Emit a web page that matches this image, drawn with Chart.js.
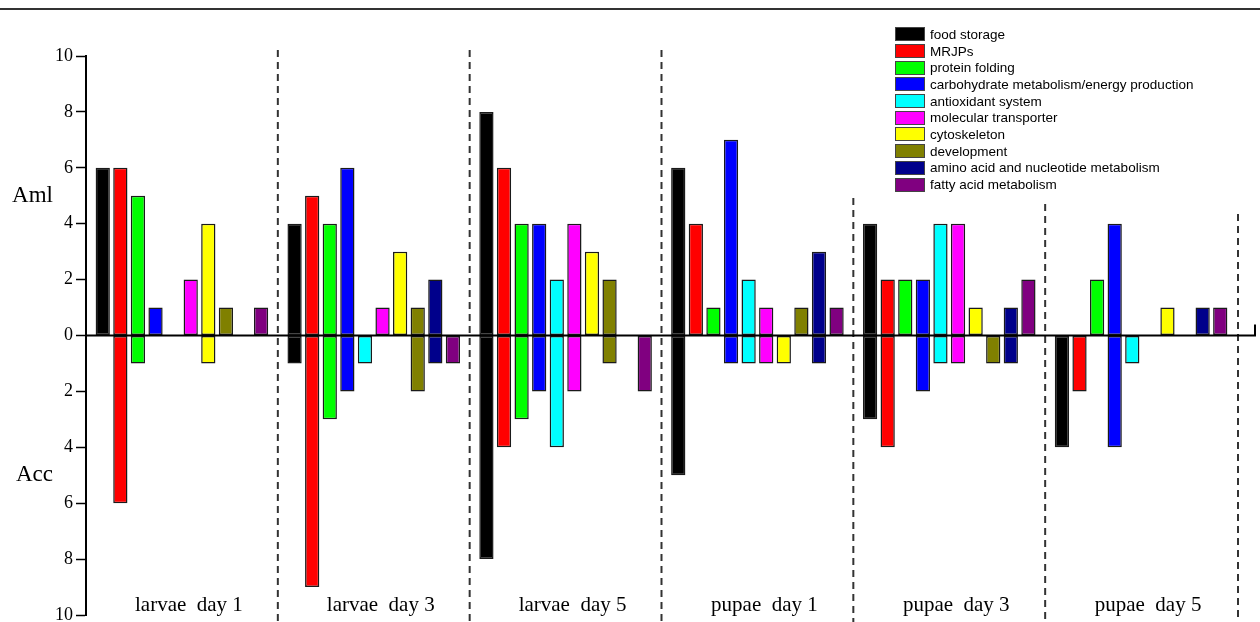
<!DOCTYPE html>
<html>
<head>
<meta charset="utf-8">
<script src="https://cdn.jsdelivr.net/npm/chart.js@4.4.0/dist/chart.umd.min.js"></script>
<style>
  html, body { margin: 0; padding: 0; background: #fff; }
  #wrap { position: relative; width: 1260px; height: 622px; overflow: hidden; }
  #topline { position: absolute; left: 0; top: 8px; width: 1260px; border-top: 2px solid #333; }
  #legend { position: absolute; left: 895px; top: 26px; font: 13.5px "Liberation Sans", Arial, sans-serif; color: #000; }
  .item { display: flex; align-items: center; height: 16.7px; white-space: nowrap; }
  .sw { width: 28px; height: 12px; border: 1px solid #444; margin-right: 5px; flex: none; }
</style>
</head>
<body>
<div id="wrap">
  <canvas id="chart" width="1260" height="640"></canvas>
  <div id="topline"></div>
  <div id="legend"></div>
</div>
<script>
const groupLabels = ['larvae  day 1', 'larvae  day 3', 'larvae  day 5', 'pupae  day 1', 'pupae  day 3', 'pupae  day 5'];
const categories = ['food storage', 'MRJPs', 'protein folding', 'carbohydrate metabolism/energy production',
  'antioxidant system', 'molecular transporter', 'cytoskeleton', 'development',
  'amino acid and nucleotide metabolism', 'fatty acid metabolism'];
const colors = ['#000000', '#ff0000', '#00ff00', '#0000ff', '#00ffff', '#ff00ff', '#ffff00', '#808000', '#00008b', '#800080'];

// Aml (upwards), one value per category
const amlLarvae1 = [6, 6, 5, 1, 0, 2, 4, 1, 0, 1];
const amlLarvae3 = [4, 5, 4, 6, 0, 1, 3, 1, 2, 0];
const amlLarvae5 = [8, 6, 4, 4, 2, 4, 3, 2, 0, 0];
const amlPupae1  = [6, 4, 1, 7, 2, 1, 0, 1, 3, 1];
const amlPupae3  = [4, 2, 2, 2, 4, 4, 1, 0, 1, 2];
const amlPupae5  = [0, 0, 2, 4, 0, 0, 1, 0, 1, 1];

// Acc (downwards), magnitudes
const accLarvae1 = [0, 6, 1, 0, 0, 0, 1, 0, 0, 0];
const accLarvae3 = [1, 9, 3, 2, 1, 0, 0, 2, 1, 1];
const accLarvae5 = [8, 4, 3, 2, 4, 2, 0, 1, 0, 2];
const accPupae1  = [5, 0, 0, 1, 1, 1, 1, 0, 1, 0];
const accPupae3  = [3, 4, 0, 2, 1, 1, 0, 1, 1, 0];
const accPupae5  = [4, 2, 0, 4, 1, 0, 0, 0, 0, 0];

const amlGroups = [amlLarvae1, amlLarvae3, amlLarvae5, amlPupae1, amlPupae3, amlPupae5];
const accGroups = [accLarvae1, accLarvae3, accLarvae5, accPupae1, accPupae3, accPupae5];

const barStyle = {
  borderColor: '#1a1a1a',
  borderWidth: 1.5,
  borderSkipped: false,
  barPercentage: 0.81,
  categoryPercentage: 0.917
};

const datasets = [];
categories.forEach((cat, c) => {
  datasets.push(Object.assign({
    label: cat,
    data: amlGroups.map(g => g[c] ? g[c] : null),
    backgroundColor: colors[c],
    stack: 's' + c
  }, barStyle));
});
categories.forEach((cat, c) => {
  datasets.push(Object.assign({
    label: cat + ' (Acc)',
    data: accGroups.map(g => g[c] ? -g[c] : null),
    backgroundColor: colors[c],
    stack: 's' + c
  }, barStyle));
});

// legend
const legendEl = document.getElementById('legend');
categories.forEach((cat, c) => {
  const row = document.createElement('div');
  row.className = 'item';
  const sw = document.createElement('span');
  sw.className = 'sw';
  sw.style.background = colors[c];
  const tx = document.createElement('span');
  tx.textContent = cat;
  row.appendChild(sw);
  row.appendChild(tx);
  legendEl.appendChild(row);
});

const serif = '"Liberation Serif", "Times New Roman", serif';

const decorations = {
  id: 'decorations',
  beforeDatasetsDraw(chart) {
    const { ctx, chartArea } = chart;
    const xs = chart.scales.x;
    const sepTops = [50, 50, 50, 198, 204, 214];
    ctx.save();
    ctx.strokeStyle = '#333';
    ctx.lineWidth = 2;
    ctx.setLineDash([7, 5]);
    for (let i = 0; i < groupLabels.length; i++) {
      const x = i < groupLabels.length - 1
        ? (xs.getPixelForValue(i) + xs.getPixelForValue(i + 1)) / 2
        : chartArea.right + 1;
      ctx.beginPath();
      ctx.moveTo(x, sepTops[i]);
      ctx.lineTo(x, 640);
      ctx.stroke();
    }
    ctx.restore();
  },
  afterDatasetsDraw(chart) {
    const { ctx, chartArea } = chart;
    const xs = chart.scales.x;
    const ys = chart.scales.y;
    const y0 = ys.getPixelForValue(0);
    ctx.save();
    ctx.strokeStyle = '#000';
    ctx.lineWidth = 2;
    ctx.beginPath();
    ctx.moveTo(chartArea.left, y0);
    ctx.lineTo(chartArea.right + 18, y0);
    ctx.lineTo(chartArea.right + 18, y0 - 11);
    ctx.stroke();

    ctx.fillStyle = '#000';
    ctx.font = '21px ' + serif;
    ctx.textAlign = 'center';
    ctx.textBaseline = 'middle';
    groupLabels.forEach((g, i) => {
      ctx.fillText(g, xs.getPixelForValue(i) + 7, 605);
    });

    ctx.font = '23px ' + serif;
    ctx.textAlign = 'right';
    ctx.fillText('Aml', 53, ys.getPixelForValue(5));
    ctx.fillText('Acc', 53, ys.getPixelForValue(-5));
    ctx.restore();
  }
};

new Chart(document.getElementById('chart'), {
  type: 'bar',
  data: {
    labels: groupLabels,
    datasets: datasets
  },
  options: {
    responsive: false,
    animation: false,
    devicePixelRatio: 1,
    layout: { padding: { left: 0, top: 56, right: 23, bottom: 25 } },
    plugins: {
      legend: { display: false },
      tooltip: { enabled: false }
    },
    scales: {
      x: {
        stacked: true,
        display: false
      },
      y: {
        stacked: true,
        min: -10,
        max: 10,
        afterFit: s => { s.width = 86; },
        ticks: {
          stepSize: 2,
          color: '#000',
          padding: 3,
          font: { family: serif, size: 18 },
          callback: v => Math.abs(v)
        },
        grid: {
          drawOnChartArea: false,
          tickLength: 10,
          tickColor: '#000',
          tickWidth: 1.5
        },
        border: { color: '#000', width: 2 }
      }
    }
  },
  plugins: [decorations]
});
</script>
</body>
</html>
